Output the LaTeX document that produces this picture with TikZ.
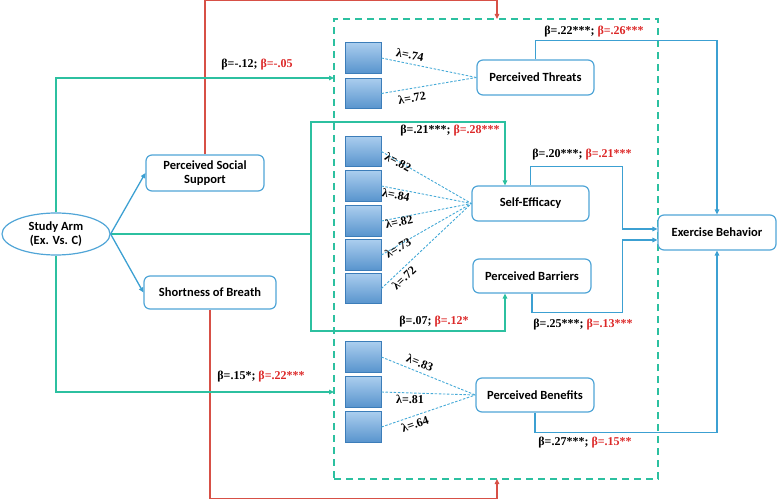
\documentclass[tikz,border=0pt]{standalone}
\usepackage{fontspec}
\setmainfont{Liberation Serif}
\newfontfamily\nodefont{Carlito}
\usetikzlibrary{arrows.meta,shapes.geometric,calc}
\definecolor{tealc}{RGB}{44,192,160}
\definecolor{lineblue}{RGB}{60,160,210}
\definecolor{nodeblue}{RGB}{80,165,215}
\definecolor{loadblue}{RGB}{70,170,215}
\definecolor{redline}{RGB}{215,80,70}
\definecolor{redtxt}{RGB}{220,40,40}
\definecolor{sqtop}{RGB}{170,205,238}
\definecolor{sqbot}{RGB}{88,148,205}
\definecolor{sqborder}{RGB}{60,125,185}
\tikzset{
  box/.style={draw=nodeblue, line width=1.2pt, rounded corners=6pt, fill=white,
    font=\nodefont\bfseries\fontsize{12.5}{14}\selectfont, align=center, inner sep=0pt},
  ovalbox/.style={ellipse, draw=nodeblue, line width=1.2pt, fill=white,
    font=\nodefont\bfseries\fontsize{12.5}{14}\selectfont, align=center, inner sep=0pt,
    minimum width=108pt, minimum height=42pt},
  ind/.style={draw=sqborder, line width=0.8pt, top color=sqtop, bottom color=sqbot,
    minimum width=36pt, minimum height=30.5pt, inner sep=0pt},
  grpbox/.style={draw=tealc, line width=1.3pt, dash pattern=on 7pt off 5pt,
    minimum width=324pt, minimum height=460pt, inner sep=0pt},
  lam/.style={font=\bfseries\fontsize{12}{12}\selectfont, inner sep=0pt},
  betal/.style={font=\bfseries\fontsize{12}{14}\selectfont, inner sep=0pt},
  load/.style={draw=loadblue, dash pattern=on 2.5pt off 1.6pt, line width=0.9pt},
  grn/.style={draw=tealc, line width=1.4pt},
  blu/.style={draw=lineblue, line width=1.3pt},
  rd/.style={draw=redline, line width=1.2pt},
  arr/.style={-{Triangle[length=5pt,width=4.5pt]}}
}
\begin{document}
\begin{tikzpicture}[x=1pt,y=-1pt]
\useasboundingbox (0,0) rectangle (777,500);
% group box
\node[grpbox] (grp) at (496,249) {};
% main nodes
\node[ovalbox] (SA) at (56,234) {Study Arm\\(Ex. Vs. C)};
\node[box, minimum width=118pt, minimum height=36pt] (PSS) at (205,173) {Perceived Social\\Support};
\node[box, minimum width=132pt, minimum height=33pt] (SOB) at (210,292.5) {Shortness of Breath};
\node[box, minimum width=117pt, minimum height=35pt] (PT) at (535.5,77.5) {Perceived Threats};
\node[box, minimum width=117pt, minimum height=35pt] (SE) at (530.5,203.5) {Self-Efficacy};
\node[box, minimum width=118pt, minimum height=34pt] (PBar) at (532,276) {Perceived Barriers};
\node[box, minimum width=118pt, minimum height=34pt] (PBen) at (535,395) {Perceived Benefits};
\node[box, minimum width=118pt, minimum height=35pt] (EB) at (717,232.5) {Exercise Behavior};
% indicators
\node[ind] (t1) at (363,58) {};
\node[ind] (t2) at (363,93.5) {};
\node[ind] (e1) at (363,151.5) {};
\node[ind] (e2) at (363,186) {};
\node[ind] (e3) at (363,221) {};
\node[ind] (e4) at (363,255) {};
\node[ind] (e5) at (363,288.5) {};
\node[ind] (b1) at (363,357) {};
\node[ind] (b2) at (363,392) {};
\node[ind] (b3) at (363,427) {};
% coordinates
\coordinate (gin1) at (334,78);
\coordinate (gin2) at (334,392);
\coordinate (rin1) at (497,19);
\coordinate (rin2) at (497,479);
\coordinate (gl) at (311,234);
\coordinate (gtl) at (311,122);
\coordinate (gbl) at (311,331);
% loadings
\foreach \s in {t1,t2} \draw[load] (\s.east) -- (PT.west);
\foreach \s in {e1,e2,e3,e4,e5} \draw[load] (\s.east) -- (SE.west);
\foreach \s in {b1,b2,b3} \draw[load] (\s.east) -- (PBen.west);
% red paths
\draw[rd,arr] (PSS.north) -- ++(0,-154) -| (rin1);
\draw[rd,arr] (SOB.south) -- ++(0,189) -| (rin2);
% green paths
\draw[grn,arr] (SA.north) |- (gin1);
\draw[grn,arr] (SA.south) |- (gin2);
\draw[grn] (SA.east) -- (gl);
\draw[grn,arr] (gl) -- (gtl) -| ([xshift=-25.5pt]SE.north);
\draw[grn,arr] (gl) -- (gbl) -| ([xshift=-27pt]PBar.south);
% blue paths
\draw[blu,arr] (SA.east) -- (PSS.west);
\draw[blu,arr] (SA.east) -- (SOB.west);
\draw[blu,arr] (PT.north) -- ++(0,-19) -| (EB.north);
\draw[blu,arr] (SE.north) -- ++(0,-19) -| ($(EB.west)+(-35,-3.5)$) -- ($(EB.west)+(0,-3.5)$);
\draw[blu,arr] (PBar.south) -- ++(0,19) -| ($(EB.west)+(-35,7.5)$) -- ($(EB.west)+(0,7.5)$);
\draw[blu,arr] (PBen.south) -- ++(0,20) -| (EB.south);
% lambda labels
\node[lam, rotate=-11] (l1) at (410,55) {λ=.74};
\node[lam, rotate=9] (l2) at (412,98) {λ=.72};
\node[lam, rotate=-28] (l3) at (398,162) {λ=.82};
\node[lam, rotate=-11] (l4) at (396,195) {λ=.84};
\node[lam, rotate=12] (l5) at (399,222) {λ=.82};
\node[lam, rotate=30] (l6) at (398,248) {λ=.73};
\node[lam, rotate=43] (l7) at (404,278) {λ=.72};
\node[lam, rotate=-22] (l8) at (420,363) {λ=.83};
\node[lam] (l9) at (410,399) {λ=.81};
\node[lam, rotate=19] (l10) at (415,424) {λ=.64};
% beta labels
\node[betal] (bA) at (257,65) {β=-.12; \textcolor{redtxt}{β=-.05}};
\node[betal] (bB) at (261,377) {β=.15*; \textcolor{redtxt}{β=.22***}};
\node[betal] (bC) at (450,131) {β=.21***; \textcolor{redtxt}{β=.28***}};
\node[betal] (bD) at (434,322) {β=.07; \textcolor{redtxt}{β=.12*}};
\node[betal] (bE) at (594,32) {β=.22***; \textcolor{redtxt}{β=.26***}};
\node[betal] (bF) at (582,155) {β=.20***; \textcolor{redtxt}{β=.21***}};
\node[betal] (bG) at (583,325) {β=.25***; \textcolor{redtxt}{β=.13***}};
\node[betal] (bH) at (585,443) {β=.27***; \textcolor{redtxt}{β=.15**}};
\end{tikzpicture}
\end{document}
